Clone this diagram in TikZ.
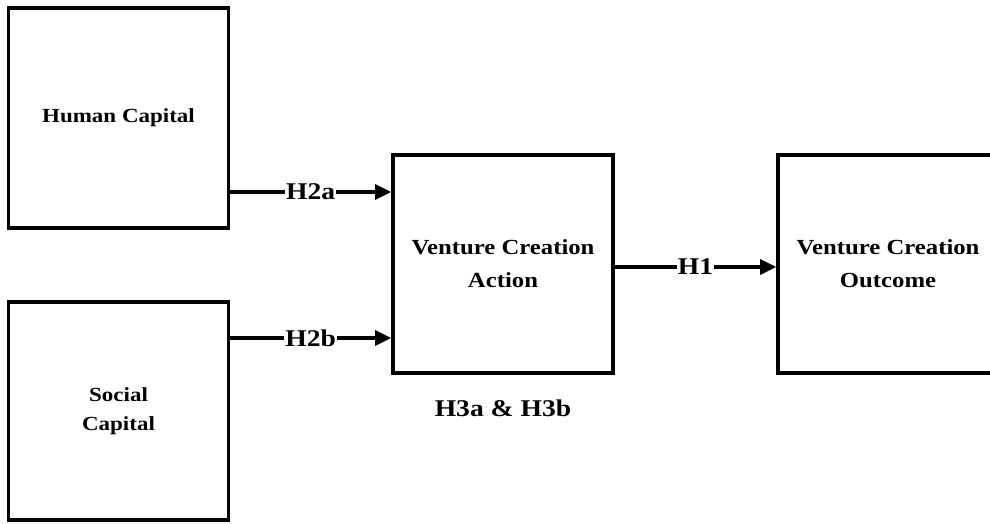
\documentclass[tikz,border=0pt]{standalone}
\usepackage{fontspec}
\setmainfont[FakeStretch=1.15]{Liberation Serif}
\usetikzlibrary{arrows.meta}

\begin{document}
\begin{tikzpicture}
[
	x=1pt,y=1pt,
	box/.style={draw,line width=3.6pt,minimum width=220pt,minimum height=218pt,align=center,
		font=\fontsize{20}{29}\selectfont\bfseries},
	link/.style={line width=3.2pt,-{Triangle[length=16pt,width=15pt]}},
	hlabel/.style={fill=white,inner sep=1pt,font=\fontsize{24}{28}\selectfont\bfseries},
]

	\clip (0,0) rectangle (990,523);

	% boxes
	\node[box,minimum height=220pt] at (118.5,405) (human) {Human Capital};
	\node[box] at (118.5,112) (social) {Social\\Capital};
	\node[box,font=\fontsize{21.5}{33}\selectfont\bfseries] at (503,259) (action) {Venture Creation\\Action};
	\node[box,font=\fontsize{21.5}{33}\selectfont\bfseries] at (888,259) (outcome) {Venture Creation\\Outcome};

	% arrows
	\draw[link] (human.east |- 0,331) -- node[hlabel] {H2a} (action.west |- 0,331);
	\draw[link] (social.east |- 0,185) -- node[hlabel] {H2b} (action.west |- 0,185);
	\draw[link] (action.east |- 0,256) -- node[hlabel] {H1} (outcome.west |- 0,256);

	\node[hlabel,below=24pt] at (action.south) (hthree) {H3a \& H3b};

\end{tikzpicture}
\end{document}
